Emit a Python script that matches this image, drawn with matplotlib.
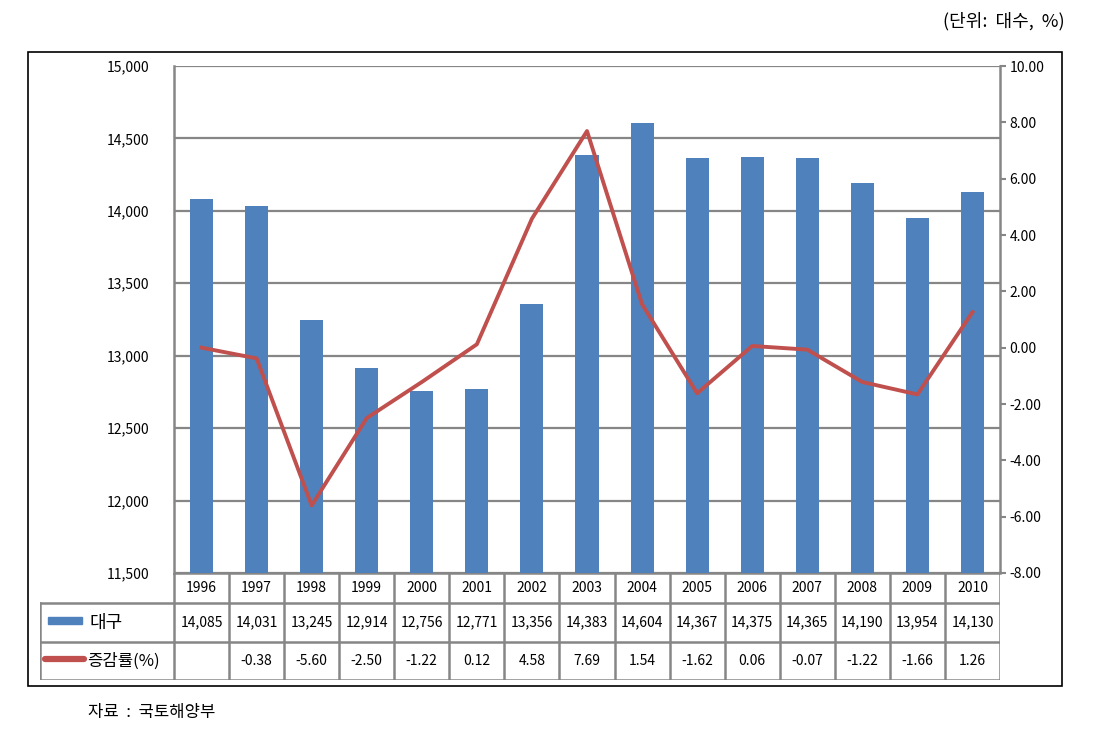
import matplotlib
matplotlib.use("Agg")
import matplotlib.pyplot as plt
from matplotlib.patches import Rectangle
from matplotlib.lines import Line2D

plt.rcParams['font.family'] = ['Noto Sans CJK KR', 'DejaVu Sans']

# data
years = ["1996", "1997", "1998", "1999", "2000", "2001", "2002", "2003",
         "2004", "2005", "2006", "2007", "2008", "2009", "2010"]
counts = [14085, 14031, 13245, 12914, 12756, 12771, 13356, 14383,
          14604, 14367, 14375, 14365, 14190, 13954, 14130]
rates = [0.00, -0.38, -5.60, -2.50, -1.22, 0.12, 4.58, 7.69,
         1.54, -1.62, 0.06, -0.07, -1.22, -1.66, 1.26]
rate_labels = ["", "-0.38", "-5.60", "-2.50", "-1.22", "0.12", "4.58", "7.69",
               "1.54", "-1.62", "0.06", "-0.07", "-1.22", "-1.66", "1.26"]
bar_name = "대구"
line_name = "증감률(%)"
unit_text = "(단위:  대수,  %)"
source_text = "자료  :  국토해양부"

blue = "#4F81BD"
red = "#C0504D"
gray = "#868686"

W, H = 1120, 754
fig = plt.figure(figsize=(W / 100, H / 100), dpi=100)

def box(x0, y0, x1, y1):
    # pixel box -> figure fraction rect
    return [x0 / W, 1 - y1 / H, (x1 - x0) / W, (y1 - y0) / H]

# outer frame
fig.add_artist(Rectangle((28 / W, 1 - 686 / H), (1062 - 28) / W, (686 - 52) / H,
                         transform=fig.transFigure, fill=False, ec="black", lw=1.2))

n = len(years)
xs = list(range(n))

ax = fig.add_axes(box(174, 66, 1000, 573))
ax.bar(xs, counts, width=0.42, color=blue, zorder=3)
ax.set_xlim(-0.5, n - 0.5)
ax.set_ylim(11500, 15000)
ax.set_yticks(range(11500, 15001, 500))
ax.set_yticklabels([f"{v:,}" for v in range(11500, 15001, 500)])
ax.yaxis.grid(True, color=gray, lw=1.6, zorder=0)
ax.set_xticks([])
ax.tick_params(axis="y", length=0, pad=18, labelsize=10)
for s in ["top", "right", "bottom"]:
    ax.spines[s].set_visible(False)
ax.spines["left"].set_color(gray)
ax.spines["left"].set_linewidth(1.8)

ax2 = ax.twinx()
ax2.plot(xs, rates, color=red, lw=2.8, zorder=4)
ax2.set_ylim(-8, 10)
ax2.set_yticks(range(-8, 11, 2))
ax2.set_yticklabels([f"{v:.2f}" for v in range(-8, 11, 2)])
ax2.tick_params(axis="y", length=4, width=1.5, color=gray, labelsize=10, pad=3)
for s in ["top", "left", "bottom"]:
    ax2.spines[s].set_visible(False)
ax2.spines["right"].set_color(gray)
ax2.spines["right"].set_linewidth(1.8)

# data table below the plot
colw = 826 / n
tab = fig.add_axes(box(40, 573, 1000, 680))
tab.set_xlim(-0.5 - 134 / colw, n - 0.5)
tab.set_ylim(680, 573)
tab.axis("off")
rows = [573, 603, 642, 680]
lc = dict(color=gray, lw=1.8, solid_capstyle="projecting")
left = -0.5 - 134 / colw
tab.plot([-0.5, n - 0.5], [rows[0], rows[0]], **lc)
tab.plot([left, n - 0.5], [rows[1], rows[1]], **lc)
tab.plot([left, n - 0.5], [rows[2], rows[2]], **lc)
tab.plot([left, n - 0.5], [rows[3], rows[3]], **lc)
tab.plot([left, left], [rows[1], rows[3]], **lc)
for i in range(n + 1):
    tab.plot([i - 0.5, i - 0.5], [rows[0], rows[3]], **lc)

for i in range(n):
    tab.text(i, (rows[0] + rows[1]) / 2, years[i], ha="center", va="center", fontsize=10)
    tab.text(i, (rows[1] + rows[2]) / 2, f"{counts[i]:,}", ha="center", va="center", fontsize=10)
    tab.text(i, (rows[2] + rows[3]) / 2, rate_labels[i], ha="center", va="center", fontsize=10)

# legend keys in the table's first column
tab.add_patch(Rectangle((left + 8 / colw, 617), 34 / colw, 7, color=blue, clip_on=False))
tab.text(left + 50 / colw, (rows[1] + rows[2]) / 2, bar_name, ha="left", va="center", fontsize=13)
tab.add_line(Line2D([left + 5 / colw, left + 44 / colw], [659, 659], color=red, lw=4.5,
                    solid_capstyle="round"))
tab.text(left + 47 / colw, (rows[2] + rows[3]) / 2, line_name, ha="left", va="center", fontsize=12)

fig.text(1065 / W, 1 - 21 / H, unit_text, ha="right", va="center", fontsize=13)
fig.text(88 / W, 1 - 713 / H, source_text, ha="left", va="center", fontsize=12)

fig.savefig("out.png", dpi=100)
